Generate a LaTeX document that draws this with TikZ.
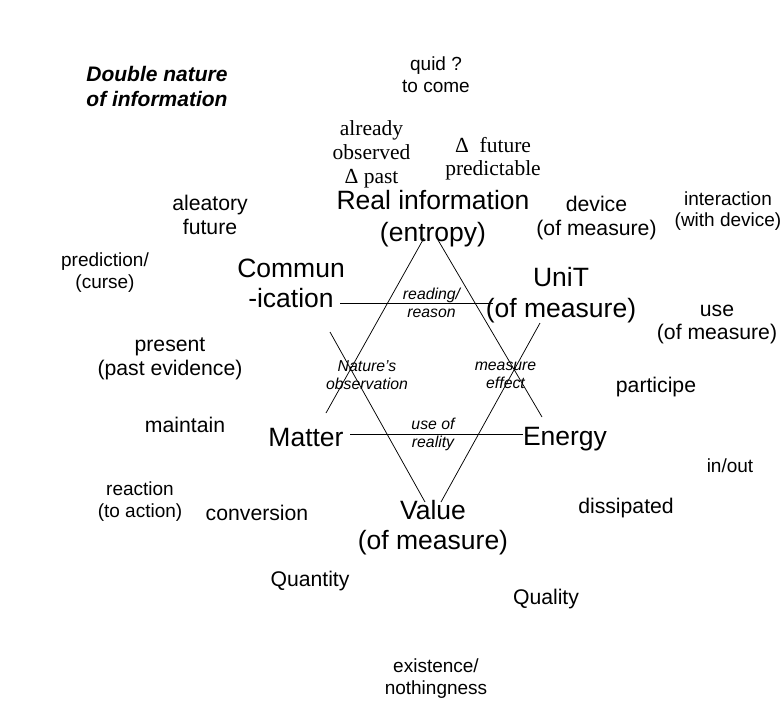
\documentclass[tikz,border=0pt]{standalone}
\usepackage{fontspec}
\setmainfont{Liberation Sans}
\newfontfamily\serfont{Liberation Serif}
\begin{document}
\begin{tikzpicture}[x=1pt,y=-1pt,
  every node/.style={inner sep=0pt,outer sep=0pt,align=center,anchor=center},
  sa/.style={font=\fontsize{21.2}{24}\selectfont},
  sb/.style={font=\fontsize{19}{22}\selectfont},
  big/.style={font=\fontsize{26.5}{31}\selectfont},
  lab/.style={font=\itshape\fontsize{15.8}{18}\selectfont},
  ser/.style={font=\serfont\fontsize{21.5}{24}\selectfont},
  ttl/.style={font=\bfseries\itshape\fontsize{21}{25}\selectfont},
  hexline/.style={draw=black,line width=0.75pt}]
\useasboundingbox[fill=white] (0,0) rectangle (781,712);

% title
\node[ttl] (title) at (157,86) {Double nature\\of information};

% top texts
\node[sb] (quid) at (436,75) {quid ?\\to come};
\node[ser] (already) at (371.5,154.5) {already\\observed\\Δ past};
\node[ser, font=\serfont\fontsize{21.5}{23}\selectfont] (future) at (493,158.5) {Δ~ future\\predictable};

% main vertices
\node[big, font=\fontsize{26.5}{32}\selectfont] (real) at (433,219) {Real information\\(entropy)};
\node[big, font=\fontsize{26.5}{30}\selectfont] (commun) at (291,283) {Commun\\-ication};
\node[big] (unit) at (561,295) {UniT\\(of measure)};
\node[big] (matter) at (306,438) {Matter};
\node[big] (energy) at (565,439.5) {Energy};
\node[big, font=\fontsize{26.5}{30}\selectfont] (value) at (433,528) {Value\\(of measure)};

% inner italic labels
\node[lab] (reading) at (431.5,303) {reading/\\reason};
\node[lab] (nature) at (367,375) {Nature's\\observation};
\node[lab] (measeff) at (505.5,375) {measure\\effect};
\node[lab] (useof) at (433,434.5) {use of\\reality};

% surrounding texts
\node[sa] (device) at (596.5,218) {device\\(of measure)};
\node[sb, font=\fontsize{19}{21}\selectfont] (interaction) at (728,211.5) {interaction\\(with device)};
\node[sa] (aleatory) at (210,215) {aleatory\\future};
\node[sb] (prediction) at (105,273) {prediction/\\(curse)};
\node[sa, font=\fontsize{21.2}{23}\selectfont] (use) at (717,324.5) {use\\(of measure)};
\node[sa] (present) at (170,358.5) {present\\(past evidence)};
\node[sa] (participe) at (656,387) {participe};
\node[sa] (maintain) at (185,425) {maintain};
\node[sb] (inout) at (730,466) {in/out};
\node[sb] (reaction) at (140,502) {reaction\\(to action)};
\node[sa] (conversion) at (257,513) {conversion};
\node[sa] (dissipated) at (626,508) {dissipated};
\node[sa] (quantity) at (310,581) {Quantity};
\node[sa] (quality) at (546,599) {Quality};
\node[sb] (existence) at (436,679) {existence/\\nothingness};

% hexagram coordinates
\coordinate (cl) at (340,303);
\coordinate (cr) at (493,303);
\coordinate (ml) at (350,434);
\coordinate (er) at (523,434);
\coordinate (ta1) at (424,238);
\coordinate (ta2) at (438,240);
\coordinate (ul) at (326,413);
\coordinate (ur) at (542,417);
\coordinate (dl) at (330,332);
\coordinate (dr) at (540,323);
\coordinate (vb1) at (425,502);
\coordinate (vb2) at (441,502);

\draw[hexline] (cl) -- (cr);
\draw[hexline] (ml) -- (er);
\draw[hexline] (ta1) -- (ul);
\draw[hexline] (ta2) -- (ur);
\draw[hexline] (dl) -- (vb1);
\draw[hexline] (dr) -- (vb2);
\end{tikzpicture}
\end{document}
